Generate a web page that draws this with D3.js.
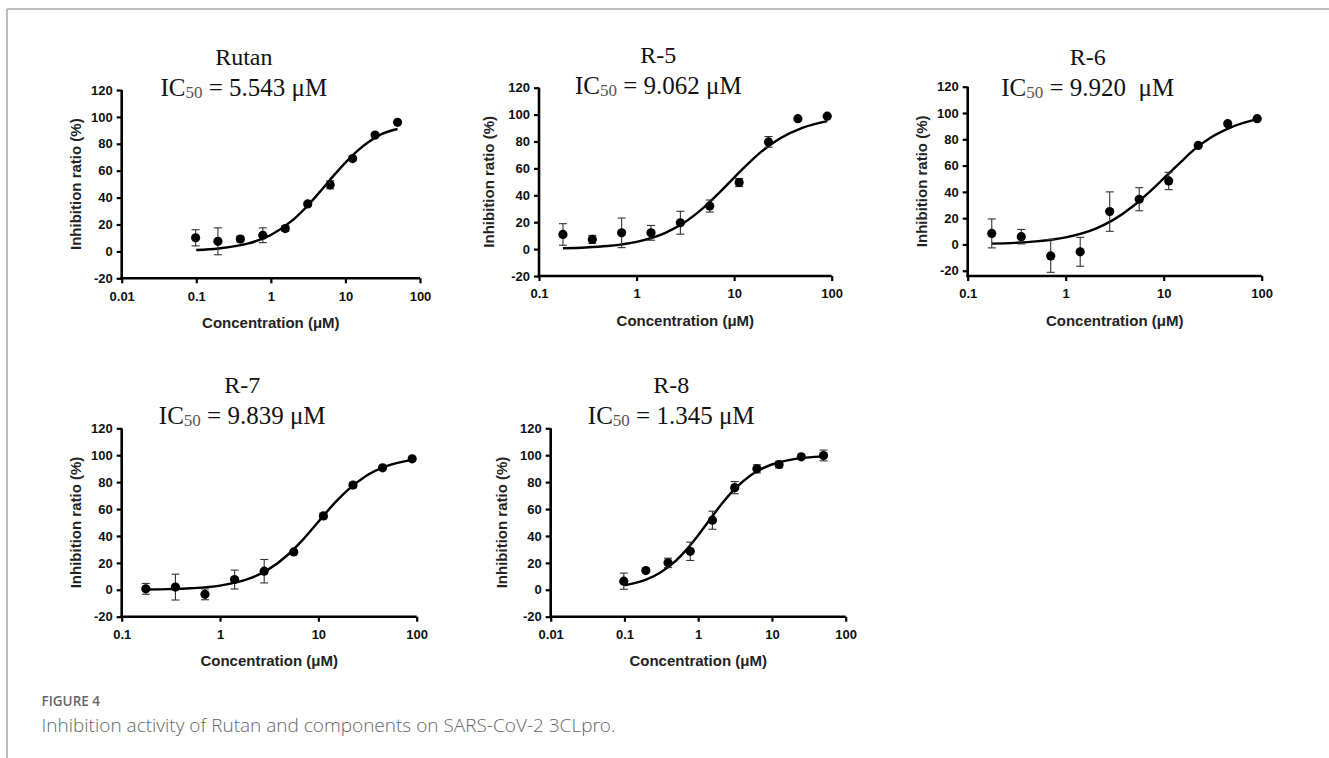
<!DOCTYPE html>
<html>
<head>
<meta charset="utf-8">
<script src="https://cdn.jsdelivr.net/npm/d3@7"></script>
<style>
  body { margin: 0; background: #fff; }
  svg { display: block; }
</style>
</head>
<body>
<div id="figure"></div>
<script>
// compound names and IC50 labels
const panelNames = ["Rutan", "R-5", "R-6", "R-7", "R-8"];
const ic50Labels = ["5.543 \u03BCM", "9.062 \u03BCM", "9.920 \u00A0\u03BCM", "9.839 \u03BCM", "1.345 \u03BCM"];

// two-fold dilution series (µM)
const concA = [0.098, 0.195, 0.39, 0.78, 1.56, 3.125, 6.25, 12.5, 25, 50];
const concB = [0.176, 0.352, 0.703, 1.406, 2.8125, 5.625, 11.25, 22.5, 45, 90];

// inhibition ratio (%) and error bars
const inhRutan = [10.1, 7.5, 9.2, 12, 17, 35.3, 49.5, 69, 86.5, 96];
const errRutan = [6, 10, 2, 5.5, 2, 1.5, 3, 1, 1, 1];
const inhR5 = [10.9, 7.2, 12.1, 12.1, 19.6, 32, 49.5, 79.7, 97, 98.8];
const errR5 = [8, 3, 11, 5.5, 8.5, 4.5, 3, 4, 0.5, 0.5];
const inhR6 = [8.4, 5.9, -8.7, -5.6, 25, 34.4, 48.3, 75.3, 91.9, 95.7];
const errR6 = [11, 5.5, 12.5, 11, 15, 8.8, 6.6, 1, 1, 0.5];
const inhR7 = [0.7, 2, -3.4, 7.6, 13.8, 28.1, 54.9, 77.8, 90.6, 97.3];
const errR7 = [4, 9.6, 4, 7, 8.7, 1, 2, 2, 1, 0.5];
const inhR8 = [6.4, 14.3, 20, 28.6, 51.7, 75.9, 89.9, 93.1, 98.8, 99.8];
const errR8 = [6, 0.5, 3.5, 6.8, 6.7, 4.5, 3, 2.5, 1, 4];

// fitted dose-response curves
const fitXRutan = [0.1, 0.2, 0.5, 1, 2, 3, 5, 7, 10, 15, 20, 30, 50];
const fitYRutan = [1.0, 2.2, 5.9, 12.2, 23.6, 33, 47, 56.5, 66, 75.5, 81, 87, 91];
const fitXB = [0.176, 0.3, 0.5, 1, 2, 3, 5, 7, 10, 15, 20, 30, 50, 90];
const fitYR5 = [0.6, 1.2, 2.3, 5.4, 12.3, 19.2, 31.6, 41.7, 53.2, 65.8, 73.7, 82.6, 90.2, 95.2];
const fitYR6 = [0.6, 1.2, 2.3, 5.4, 11.9, 18.3, 29.8, 39.3, 50.2, 62.8, 71.5, 81.2, 89.5, 95.3];
const fitYR7 = [0.2, 0.5, 1.1, 3.1, 8.4, 14.4, 26.6, 37.5, 50.6, 65.3, 74.3, 84.2, 92, 96.5];
const fitXR8 = [0.1, 0.2, 0.3, 0.5, 0.7, 1, 1.5, 2, 3, 5, 7, 10, 20, 50];
const fitYR8 = [3.3, 7.7, 12.5, 21.6, 30, 40.5, 53.5, 62.6, 73.9, 84.6, 89.5, 93.1, 97.1, 99.1];

// axis ticks
const yTicks = [-20, 0, 20, 40, 60, 80, 100, 120];
const xTicksWide = [0.01, 0.1, 1, 10, 100];
const xTicksNarrow = [0.1, 1, 10, 100];

// per panel layout (pixels)
var layout = [
  {x0: 121.7, x1: 420, xMin: 0.01, yTop: 90, yBot: 278.3, yMin: -20, titleY: 57, yLabX: 75},
  {x0: 539, x1: 831.7, xMin: 0.1, yTop: 87.7, yBot: 276, yMin: -20, titleY: 55, yLabX: 488},
  {x0: 967.7, x1: 1261.7, xMin: 0.1, yTop: 86.7, yBot: 276, yMin: -24, titleY: 56.7, yLabX: 921.7},
  {x0: 121.7, x1: 416.7, xMin: 0.1, yTop: 428.3, yBot: 616.7, yMin: -20, titleY: 385, yLabX: 75},
  {x0: 550.7, x1: 845.7, xMin: 0.01, yTop: 428.3, yBot: 616.7, yMin: -20, titleY: 385, yLabX: 501.7}
];

var conc = [concA, concB, concB, concB, concA];
var inh = [inhRutan, inhR5, inhR6, inhR7, inhR8];
var err = [errRutan, errR5, errR6, errR7, errR8];
var fitX = [fitXRutan, fitXB, fitXB, fitXB, fitXR8];
var fitY = [fitYRutan, fitYR5, fitYR6, fitYR7, fitYR8];

var width = 1329, height = 758;

const svg = d3.select("#figure")
  .append("svg")
    .attr("width", width)
    .attr("height", height)

// page frame (top and left rules)
svg.append("line")
  .attr("x1", 7).attr("x2", width).attr("y1", 9).attr("y2", 9)
  .attr("stroke", "#a8a8a8").attr("stroke-width", 1.5)
svg.append("line")
  .attr("x1", 7).attr("x2", 7).attr("y1", 9).attr("y2", height)
  .attr("stroke", "#a8a8a8").attr("stroke-width", 1.5)

const sansBold = "'Liberation Sans', Arial, sans-serif";
const serif = "'Liberation Serif', 'Times New Roman', serif";

panelNames.forEach(function(name, i) {
  var L = layout[i];

  var x = d3.scaleLog().domain([L.xMin, 100]).range([L.x0, L.x1]);
  // scale so that -20 lands on the tick and yMin on the axis line
  var y = d3.scaleLinear().domain([L.yMin, 120]).range([L.yBot, L.yTop]);

  var g = svg.append("g");

  // y axis
  var yAxis = g.append("g")
    .attr("transform", `translate(${L.x0},0)`)
    .call(d3.axisLeft(y).tickValues(yTicks).tickSize(5).tickSizeOuter(0).tickPadding(4)
      .tickFormat(d => String(d)));

  // x axis
  var xt = L.xMin == 0.01 ? xTicksWide : xTicksNarrow;
  var xAxis = g.append("g")
    .attr("transform", `translate(0,${L.yBot})`)
    .call(d3.axisBottom(x).tickValues(xt).tickSize(5).tickSizeOuter(0).tickPadding(8)
      .tickFormat(d => String(d)));

  [yAxis, xAxis].forEach(a => {
    a.select(".domain").attr("stroke", "#000").attr("stroke-width", 2.6)
    a.selectAll(".tick line").attr("stroke", "#000").attr("stroke-width", 2.2)
    a.selectAll(".tick text")
      .style("font-family", sansBold)
      .style("font-size", "13px")
      .style("font-weight", "bold")
      .style("fill", "#111")
  })
  // extend the y axis down to the x axis
  yAxis.select(".domain").attr("d", `M0,${L.yTop}V${L.yBot + 1.3}`)
  xAxis.select(".domain").attr("d", `M${L.x0 - 1.3},0H${L.x1}`)

  // fitted curve
  var pts = fitX[i].map((v, k) => [v, fitY[i][k]]);
  g.append("path")
    .datum(pts)
    .attr("fill", "none")
    .attr("stroke", "#000")
    .attr("stroke-width", 2.4)
    .attr("d", d3.line().x(d => x(d[0])).y(d => y(d[1])).curve(d3.curveMonotoneX));

  var data = conc[i].map((c, k) => ({c: c, v: inh[i][k], e: err[i][k]}));

  // error bars
  var eb = g.append("g").attr("stroke", "#333").attr("stroke-width", 1.1);
  eb.selectAll("line.v")
    .data(data)
    .join("line")
      .attr("x1", d => x(d.c)).attr("x2", d => x(d.c))
      .attr("y1", d => y(d.v - d.e)).attr("y2", d => y(d.v + d.e))
  eb.selectAll("line.top")
    .data(data.filter(d => d.e > 1))
    .join("line")
      .attr("x1", d => x(d.c) - 4).attr("x2", d => x(d.c) + 4)
      .attr("y1", d => y(d.v + d.e)).attr("y2", d => y(d.v + d.e))
  eb.selectAll("line.bot")
    .data(data.filter(d => d.e > 1))
    .join("line")
      .attr("x1", d => x(d.c) - 4).attr("x2", d => x(d.c) + 4)
      .attr("y1", d => y(d.v - d.e)).attr("y2", d => y(d.v - d.e))

  // points
  g.selectAll("circle")
    .data(data)
    .join("circle")
      .attr("cx", d => x(d.c))
      .attr("cy", d => y(d.v))
      .attr("r", 4.6)
      .style("fill", "#000")

  // titles
  var cx = (L.x0 + L.x1) / 2 - 27;
  g.append("text")
    .attr("x", cx).attr("y", L.titleY)
    .attr("text-anchor", "middle")
    .attr("dominant-baseline", "central")
    .style("font-family", serif)
    .style("font-size", "24px")
    .style("fill", "#111")
    .text(name)

  var ic = g.append("text")
    .attr("x", cx).attr("y", L.titleY + 30)
    .attr("text-anchor", "middle")
    .attr("dominant-baseline", "central")
    .style("font-family", serif)
    .style("font-size", "25px")
    .style("fill", "#111")
  ic.append("tspan").text("IC")
  ic.append("tspan").attr("dy", 5).style("font-size", "17px").style("fill", "#555").text("50")
  ic.append("tspan").attr("dy", -5).text(" = " + ic50Labels[i])

  // axis titles
  g.append("text")
    .attr("transform", `translate(${L.yLabX},${(L.yTop + L.yBot) / 2}) rotate(-90)`)
    .attr("text-anchor", "middle")
    .attr("dominant-baseline", "central")
    .style("font-family", sansBold)
    .style("font-size", "15px")
    .style("font-weight", "bold")
    .style("fill", "#222")
    .text("Inhibition ratio (%)")

  g.append("text")
    .attr("x", (L.x0 + L.x1) / 2)
    .attr("y", L.yBot + 44)
    .attr("text-anchor", "middle")
    .attr("dominant-baseline", "central")
    .style("font-family", sansBold)
    .style("font-size", "15px")
    .style("font-weight", "bold")
    .style("fill", "#222")
    .text("Concentration (\u03BCM)")
})

// caption
svg.append("text")
  .attr("x", 41.5).attr("y", 706)
  .style("font-family", "'Open Sans', sans-serif")
  .style("font-size", "13.5px")
  .style("font-weight", 600)
  .style("fill", "#666")
  .text("FIGURE 4")

svg.append("text")
  .attr("x", 41.5).attr("y", 732)
  .style("font-family", "'Open Sans', sans-serif")
  .style("font-size", "19px")
  .style("font-weight", 300)
  .style("fill", "#666")
  .text("Inhibition activity of Rutan and components on SARS-CoV-2 3CLpro.")
</script>
</body>
</html>
